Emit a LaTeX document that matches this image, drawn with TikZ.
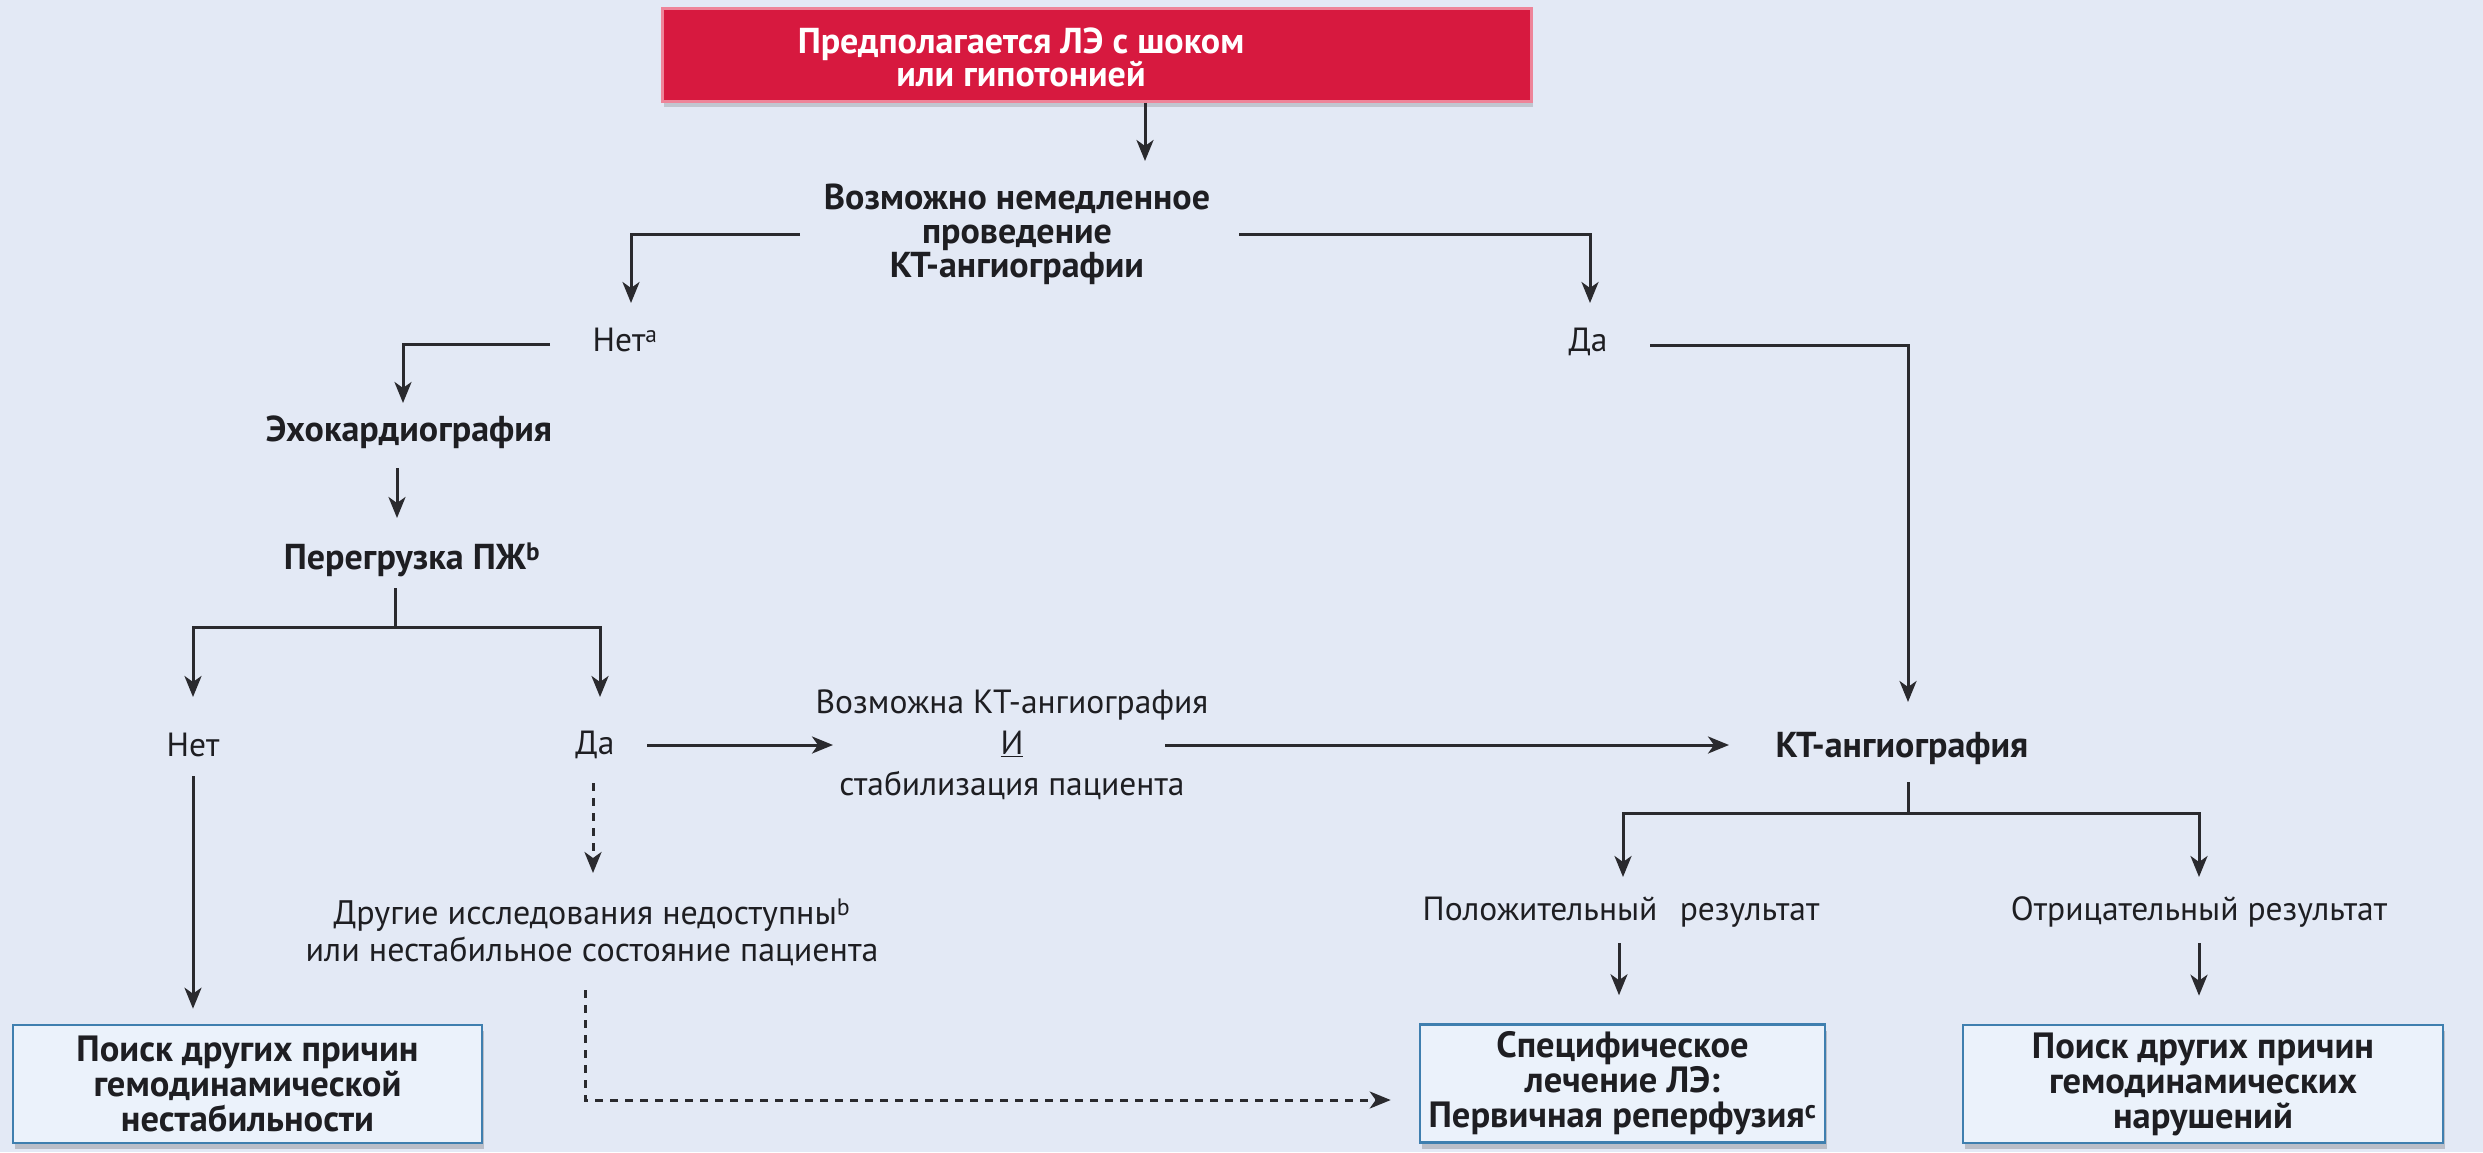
\documentclass[tikz,border=0pt]{standalone}
\usepackage{fontspec}
\setmainfont{PT Sans}
\usetikzlibrary{arrows.meta,shadows}
\definecolor{bgc}{HTML}{E3E9F5}
\definecolor{redc}{HTML}{D7193F}
\definecolor{pinkc}{HTML}{EE8499}
\definecolor{boxb}{HTML}{3F7FAF}
\definecolor{boxf}{HTML}{EBF2FB}
\definecolor{lnc}{HTML}{2A2A2E}
\definecolor{txtc}{HTML}{1E1E22}
\begin{document}
\begin{tikzpicture}[x=1pt,y=-1pt,
  every node/.style={inner sep=0pt, align=center, text=txtc},
  reg/.style={font=\fontsize{33.5}{41}\selectfont},
  regb/.style={font=\fontsize{34}{37}\selectfont},
  bld/.style={font=\fontsize{36}{34}\selectfont\bfseries},
  bldb/.style={font=\fontsize{36.5}{35}\selectfont\bfseries},
  ln/.style={line width=3pt, draw=lnc},
  arr/.style={ln, -{Stealth[length=21pt,width=17pt,inset=6pt]}},
  darr/.style={arr, dash pattern=on 8pt off 7pt},
  outbox/.style={bldb, draw=boxb, line width=2.6pt, fill=boxf, minimum height=118pt,
    drop shadow={shadow xshift=2pt, shadow yshift=-6pt, opacity=0.18, fill=black}},
  redbox/.style={fill=redc, draw=pinkc, line width=3pt, minimum width=869pt, minimum height=93pt,
    drop shadow={shadow xshift=2pt, shadow yshift=-6pt, opacity=0.15, fill=black}},
]
\useasboundingbox (0,0) rectangle (2483,1152);
\fill[bgc] (0,0) rectangle (2483,1152);

% nodes
\node[redbox] (topbox) at (1096.5,54.5) {};
\node[bld, text=white, font=\fontsize{36}{33}\selectfont\bfseries] (toptext) at (1021,57) {Предполагается ЛЭ с шоком\\или гипотонией};
\node[bld] (q) at (1017,234) {Возможно немедленное\\проведение\\КТ-ангиографии};
\node[reg] (no1) at (625,340) {Нет\textsuperscript{a}};
\node[reg] (yes1) at (1588,342) {Да};
\node[bld] (echo) at (409,432) {Эхокардиография};
\node[bld] (rv) at (412,560) {Перегрузка ПЖ\textsuperscript{b}};
\node[reg] (no2) at (193,745) {Нет};
\node[reg] (yes2) at (595,745) {Да};
\node[reg] (cond) at (1012,745) {Возможна КТ-ангиография\\\underline{И}\\стабилизация пациента};
\node[bld] (cta) at (1902,748) {КТ-ангиография};
\node[regb] (other) at (592,932) {Другие исследования недоступны\textsuperscript{b}\\или нестабильное состояние пациента};
\node[reg] (pos) at (1621,912) {Положительный\hspace{0.4em} результат};
\node[reg] (neg) at (2199,912) {Отрицательный результат};
\node[outbox, minimum width=469pt] (box1) at (247.5,1084) {Поиск других причин\\гемодинамической\\нестабильности};
\node[outbox, minimum width=405pt] (box2) at (1622.5,1083.5) {Специфическое\\лечение ЛЭ:\\Первичная реперфузия\textsuperscript{c}};
\node[outbox, minimum width=480pt] (box3) at (2203,1084) {Поиск других причин\\гемодинамических\\нарушений};

\coordinate (split1) at (395,627);
\coordinate (split2) at (1908,813);

% connectors
\draw[arr] ([xshift=48.5pt]topbox.south) -- ([xshift=128pt,yshift=73pt]q.center);
\draw[arr] ([xshift=-217pt]q.center) -| ([xshift=6pt,yshift=37pt]no1.center);
\draw[arr] ([xshift=222pt]q.center) -| ([xshift=2pt,yshift=39pt]yes1.center);
\draw[arr] ([xshift=-75pt,yshift=-4pt]no1.center) -| ([xshift=-6pt,yshift=29pt]echo.center);
\draw[arr] ([xshift=-12pt,yshift=-36pt]echo.center) -- ([xshift=-15pt,yshift=42pt]rv.center);
\draw[ln] ([xshift=-17pt,yshift=-28pt]rv.center) -- (split1);
\draw[arr] (split1) -| ([yshift=48pt]no2.center);
\draw[arr] (split1) -| ([xshift=5pt,yshift=48pt]yes2.center);
\draw[arr] ([yshift=-31pt]no2.center) -- ([xshift=-54.5pt,yshift=15pt]box1.north);
\draw[arr] ([xshift=52pt]yes2.center) -- ([xshift=-179pt]cond.center);
\draw[arr] ([xshift=153pt]cond.center) -- ([xshift=-173pt,yshift=3pt]cta.center);
\draw[arr] ([xshift=62pt,yshift=-3pt]yes1.center) -| ([xshift=6pt,yshift=46pt]cta.center);
\draw[ln] ([xshift=6pt,yshift=-34pt]cta.center) -- (split2);
\draw[arr] (split2) -| ([xshift=2pt,yshift=35pt]pos.center);
\draw[arr] (split2) -| ([yshift=35pt]neg.center);
\draw[arr] ([xshift=-2pt,yshift=-31pt]pos.center) -- ([xshift=-3.5pt,yshift=28pt]box2.north);
\draw[arr] ([yshift=-31pt]neg.center) -- ([xshift=-4pt,yshift=28pt]box3.north);
\draw[darr] ([xshift=-2pt,yshift=-38pt]yes2.center) -- ([xshift=1pt,yshift=59pt]other.center);
\draw[darr] ([xshift=-7pt,yshift=-58pt]other.center) |- ([xshift=-28pt,yshift=-16.5pt]box2.west);
\end{tikzpicture}
\end{document}
